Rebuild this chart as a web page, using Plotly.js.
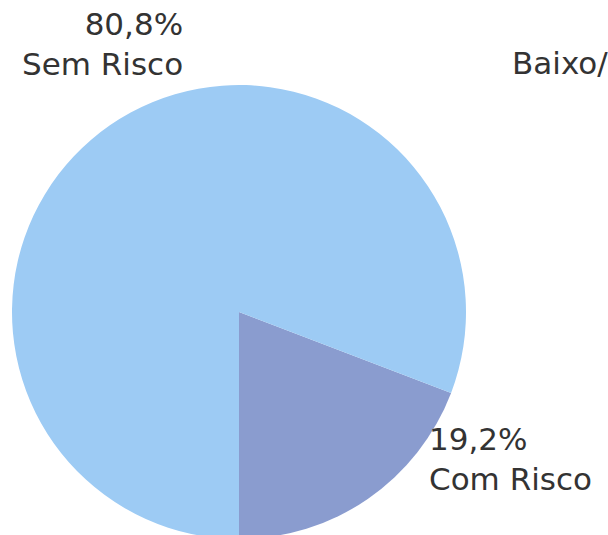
<!DOCTYPE html>
<html>
<head>
<meta charset="utf-8">
<script src="https://cdn.plot.ly/plotly-3.0.1.min.js"></script>
<style>
html,body{margin:0;padding:0;overflow:hidden;background:#fff;}
#chart{width:608px;height:540px;}
</style>
</head>
<body>
<div id="chart"></div>
<script>
var categories = ["Com Risco", "Sem Risco"];
var values = [19.2, 80.8];
var valueLabels = ["19,2%", "80,8%"];
var colors = ["#8a9ccf", "#9dcbf4"];
var cutTitle = "Baixo/";

var W = 608, H = 540;
function px(x){return x / W;}
function py(y){return 1 - y / H;}

var total = values[0] + values[1];
var trace = {
  type: "pie",
  labels: categories,
  values: values,
  sort: false,
  direction: "clockwise",
  rotation: 180 - 360 * values[0] / total,
  textinfo: "none",
  hoverinfo: "label+percent",
  marker: {colors: colors, line: {width: 0}},
  domain: {x: [px(12), px(466)], y: [py(539), py(85)]},
  showlegend: false
};

var font = {family: "DejaVu Sans, sans-serif", size: 31, color: "#333333"};

function ann(text, x, y, anchor){
  return {text: text, xref: "paper", yref: "paper", x: px(x), y: py(y),
    xanchor: anchor, yanchor: "top", align: anchor, showarrow: false, font: font};
}

var layout = {
  width: W, height: H,
  margin: {l: 0, r: 0, t: 0, b: 0},
  paper_bgcolor: "#ffffff",
  showlegend: false,
  annotations: [
    ann(valueLabels[1] + "<br>" + categories[1], 185, 4, "right"),
    ann(valueLabels[0] + "<br>" + categories[0], 427, 419, "left"),
    ann(cutTitle, 510, 43, "left")
  ]
};

Plotly.newPlot("chart", [trace], layout, {displayModeBar: false, staticPlot: true});
</script>
</body>
</html>
